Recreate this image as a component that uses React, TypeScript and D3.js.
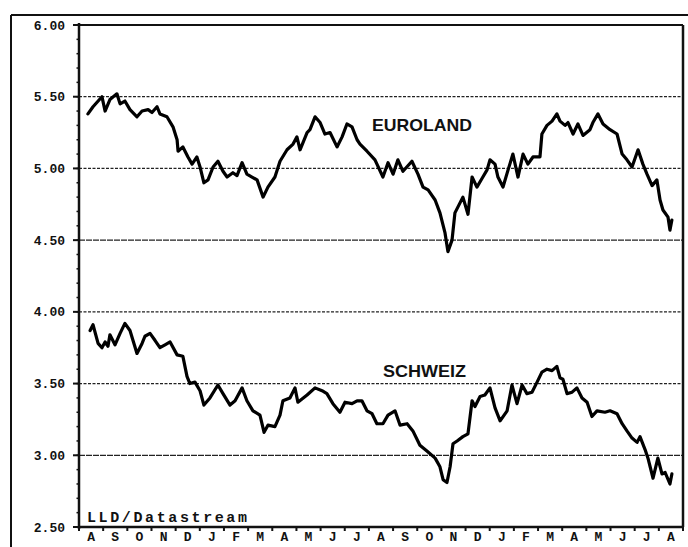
import React from "react";
import * as d3 from "d3";

// time in months from the start of the first August, value in %
const euroMonths = [0.37,0.58,0.95,1.08,1.28,1.57,1.70,1.90,2.11,2.40,2.61,2.86,3.02,3.23,3.35,3.64,3.89,4.06,4.10,4.30,4.51,4.68,4.88,5.01,5.17,5.34,5.55,5.75,5.96,6.13,6.37,6.54,6.75,6.95,7.16,7.37,7.62,7.82,8.11,8.32,8.61,8.86,9.02,9.15,9.44,9.56,9.77,9.98,10.18,10.39,10.68,10.89,11.09,11.30,11.51,11.63,11.92,12.25,12.58,12.79,13.00,13.20,13.41,13.78,14.03,14.24,14.45,14.74,14.94,15.15,15.27,15.44,15.56,15.77,15.89,16.10,16.27,16.47,16.68,16.89,17.01,17.22,17.34,17.55,17.76,17.96,18.17,18.38,18.58,18.79,19.08,19.16,19.37,19.58,19.78,19.91,20.12,20.24,20.45,20.65,20.86,21.15,21.27,21.48,21.69,21.98,22.27,22.48,22.68,22.89,23.14,23.34,23.51,23.72,23.92,24.05,24.17,24.38,24.46,24.54];
const euroValues = [5.38,5.43,5.50,5.40,5.48,5.52,5.45,5.47,5.41,5.36,5.40,5.41,5.39,5.43,5.38,5.36,5.29,5.20,5.12,5.15,5.08,5.03,5.08,5.01,4.90,4.92,5.01,5.05,4.98,4.94,4.97,4.95,5.04,4.96,4.94,4.92,4.80,4.87,4.94,5.05,5.13,5.17,5.22,5.13,5.25,5.27,5.36,5.32,5.24,5.25,5.15,5.22,5.31,5.29,5.20,5.17,5.12,5.06,4.94,5.04,4.96,5.06,4.98,5.05,4.96,4.87,4.85,4.78,4.69,4.55,4.42,4.50,4.69,4.76,4.80,4.68,4.94,4.87,4.93,4.99,5.06,5.03,4.94,4.87,4.99,5.10,4.94,5.10,5.03,5.08,5.08,5.24,5.30,5.33,5.38,5.33,5.30,5.32,5.24,5.31,5.23,5.27,5.32,5.38,5.31,5.27,5.24,5.10,5.06,5.01,5.13,5.03,4.96,4.88,4.92,4.78,4.71,4.66,4.57,4.64];

const swissMonths = [0.46,0.58,0.79,0.95,1.08,1.20,1.28,1.49,1.70,1.90,2.11,2.40,2.61,2.73,2.94,3.15,3.35,3.56,3.77,4.06,4.30,4.47,4.59,4.80,5.01,5.17,5.42,5.75,5.96,6.25,6.46,6.75,6.95,7.20,7.49,7.66,7.82,8.11,8.32,8.44,8.73,8.94,9.06,9.44,9.77,10.06,10.26,10.51,10.80,11.01,11.30,11.51,11.71,11.92,12.13,12.33,12.58,12.79,13.08,13.29,13.58,13.82,14.11,14.40,14.74,14.94,15.07,15.23,15.36,15.48,15.65,15.89,16.10,16.27,16.39,16.60,16.80,17.01,17.22,17.43,17.72,17.92,18.13,18.34,18.54,18.75,18.96,19.16,19.37,19.58,19.78,19.91,20.03,20.20,20.41,20.61,20.82,21.03,21.23,21.44,21.77,21.98,22.27,22.48,22.68,22.89,23.10,23.22,23.43,23.55,23.76,23.96,24.13,24.26,24.46,24.54];
const swissValues = [3.87,3.91,3.78,3.75,3.79,3.76,3.84,3.77,3.85,3.92,3.87,3.71,3.78,3.83,3.85,3.80,3.75,3.77,3.79,3.70,3.69,3.55,3.50,3.51,3.45,3.35,3.40,3.49,3.43,3.35,3.38,3.47,3.38,3.31,3.28,3.16,3.21,3.20,3.28,3.38,3.40,3.47,3.37,3.42,3.47,3.45,3.43,3.36,3.30,3.37,3.36,3.38,3.38,3.31,3.29,3.22,3.22,3.28,3.31,3.21,3.22,3.17,3.07,3.03,2.98,2.92,2.83,2.81,2.92,3.08,3.10,3.13,3.15,3.38,3.34,3.41,3.42,3.47,3.33,3.24,3.31,3.49,3.36,3.49,3.43,3.44,3.51,3.58,3.60,3.59,3.62,3.54,3.53,3.43,3.44,3.47,3.40,3.37,3.27,3.31,3.30,3.31,3.29,3.22,3.17,3.12,3.09,3.13,3.04,2.98,2.84,2.98,2.87,2.88,2.80,2.87];

const monthLabels = ["A","S","O","N","D","J","F","M","A","M","J","J","A","S","O","N","D","J","F","M","A","M","J","J","A"];
const yTicks = [2.5, 3.0, 3.5, 4.0, 4.5, 5.0, 5.5, 6.0];
const seriesNames = ["EUROLAND", "SCHWEIZ"];
const sourceText = "LLD/Datastream";

export default function App() {
  const W = 688, H = 547;
  const left = 79, right = 683, top = 25, bottom = 527;
  const x = d3.scaleLinear().domain([0, monthLabels.length]).range([left, right]);
  const y = d3.scaleLinear().domain([2.5, 6.0]).range([bottom, top]);
  const line = d3.line<[number, number]>().x(d => x(d[0])).y(d => y(d[1])).curve(d3.curveLinear);
  const euro = euroMonths.map((m, i) => [m, euroValues[i]] as [number, number]);
  const swiss = swissMonths.map((m, i) => [m, swissValues[i]] as [number, number]);
  const minor = d3.range(25, 61).map(v => v / 10);
  const months = d3.range(0, monthLabels.length + 1);
  const mono = "'Liberation Mono', 'DejaVu Sans Mono', monospace";
  const sans = "'Liberation Sans', Arial, sans-serif";

  return (
    <svg width={W} height={H} style={{ position: "absolute", left: 0, top: 0, background: "#fff" }}>
      <rect x={0} y={0} width={W} height={H} fill="#fff" />
      {/* outer frame */}
      <line x1={11} y1={15} x2={W} y2={15} stroke="#111" strokeWidth={2} />
      <line x1={11} y1={15} x2={11} y2={H} stroke="#111" strokeWidth={2} />

      {/* gridlines */}
      {yTicks.filter(v => v > 2.5 && v < 6).map(v => (
        <line key={v} x1={left} x2={right} y1={y(v)} y2={y(v)} stroke="#222" strokeWidth={1.3}
          strokeDasharray={v === 3.0 || v === 4.5 ? "6,1" : "3,1.5"} />
      ))}

      {/* plot frame */}
      <line x1={left} x2={right} y1={top} y2={top} stroke="#111" strokeWidth={2} />
      <line x1={right} x2={right} y1={top} y2={bottom} stroke="#111" strokeWidth={2.5} />
      <line x1={left} x2={left} y1={top - 2} y2={bottom + 2} stroke="#111" strokeWidth={2.5} />
      <line x1={left} x2={right} y1={bottom} y2={bottom} stroke="#111" strokeWidth={2.5} />

      {/* y minor ticks */}
      {minor.map(v => (
        <line key={"m" + v} x1={left - 2.5} x2={left + 1} y1={y(v)} y2={y(v)} stroke="#111" strokeWidth={1.5} />
      ))}
      {/* y major ticks + labels */}
      {yTicks.map(v => (
        <g key={"t" + v}>
          <line x1={left - 6} x2={left} y1={y(v)} y2={y(v)} stroke="#111" strokeWidth={2} />
          <text x={65} y={y(v) + 4.5} textAnchor="end" fontFamily={mono} fontWeight="bold" fontSize={13} fill="#111">
            {v.toFixed(2)}
          </text>
        </g>
      ))}

      {/* x ticks + labels */}
      {months.map(m => (
        <line key={"x" + m} x1={x(m)} x2={x(m)} y1={bottom - 1} y2={bottom + 4} stroke="#111" strokeWidth={2} />
      ))}
      {monthLabels.map((l, i) => (
        <text key={"l" + i} x={x(i + 0.5)} y={541} textAnchor="middle" fontFamily={mono} fontWeight="bold" fontSize={13} fill="#111">
          {l}
        </text>
      ))}

      {/* series */}
      <path d={line(euro) || ""} fill="none" stroke="#000" strokeWidth={3.2} strokeLinejoin="round" strokeLinecap="round" />
      <path d={line(swiss) || ""} fill="none" stroke="#000" strokeWidth={3.2} strokeLinejoin="round" strokeLinecap="round" />

      {/* labels */}
      <text x={372} y={131} fontFamily={sans} fontWeight="bold" fontSize={17} textLength={100} lengthAdjust="spacingAndGlyphs" fill="#111">
        {seriesNames[0]}
      </text>
      <text x={383} y={377} fontFamily={sans} fontWeight="bold" fontSize={16} textLength={83} lengthAdjust="spacingAndGlyphs" fill="#111">
        {seriesNames[1]}
      </text>
      <text x={87} y={522} fontFamily={mono} fontWeight="bold" fontSize={15} textLength={160} lengthAdjust="spacing" fill="#111">
        {sourceText}
      </text>
    </svg>
  );
}
